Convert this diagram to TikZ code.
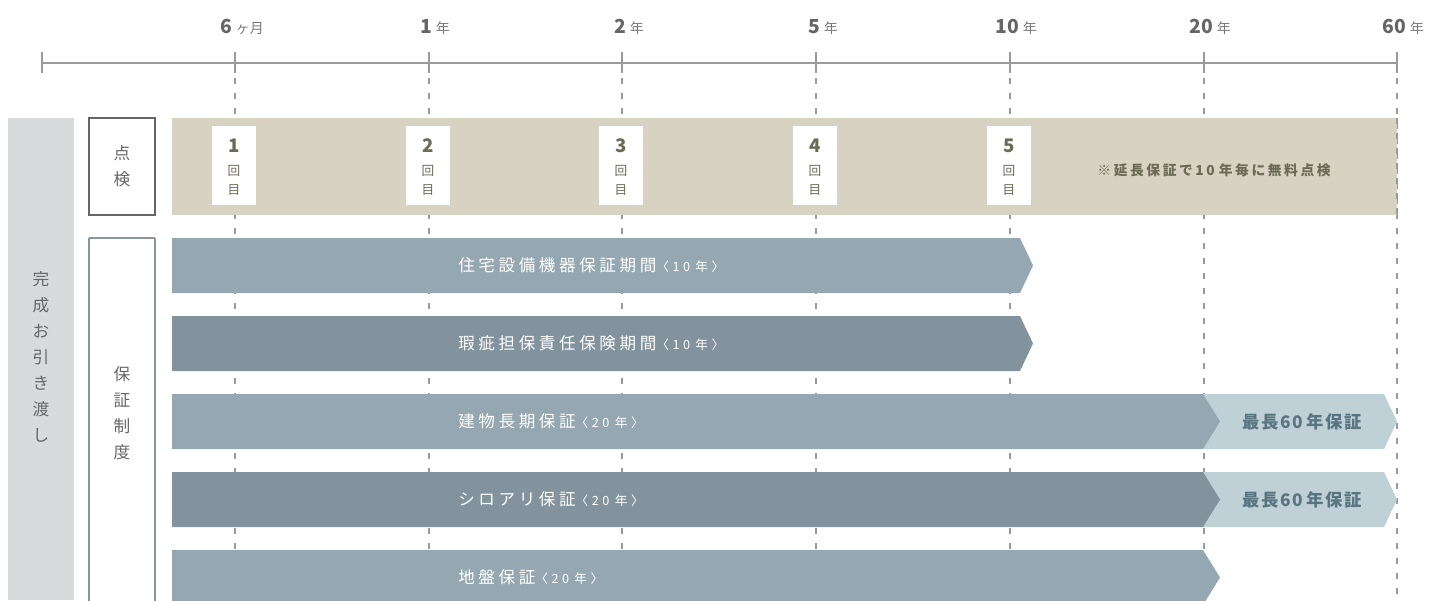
\documentclass[tikz,border=0pt]{standalone}
\usepackage{fontspec}
\setmainfont{Noto Sans CJK JP}
\definecolor{axisgray}{HTML}{9A9A9A}
\definecolor{numgray}{HTML}{666666}
\definecolor{unitgray}{HTML}{7A7A7A}
\definecolor{colgray}{HTML}{D9DADC}
\definecolor{beige}{HTML}{D8D2C2}
\definecolor{barlight}{HTML}{95A8B2}
\definecolor{bardark}{HTML}{82939E}
\definecolor{barext}{HTML}{C0D0D7}
\definecolor{exttext}{HTML}{5A7582}
\definecolor{insptext}{HTML}{6B6A55}
\definecolor{boxblue}{HTML}{8796A0}
\begin{document}
\begin{tikzpicture}[x=0.75pt,y=-0.75pt,
  axisline/.style={draw=axisgray,line width=1pt},
  dashline/.style={draw=axisgray,line width=0.8pt,dash pattern=on 4.5pt off 6.75pt},
  axlabel/.style={inner sep=0pt,anchor=base},
  sidetext/.style={inner sep=0pt,align=center,font=\fontsize{12.5}{19.5}\selectfont,text=numgray},
  inspbox/.style={fill=white,draw=none,minimum width=33pt,minimum height=59.25pt,inner sep=0pt},
  inspnum/.style={inner sep=0pt,text=insptext,font=\fontsize{14}{14}\selectfont\bfseries},
  inspkan/.style={inner sep=0pt,text=insptext,align=center,font=\fontsize{9.5}{14.25}\selectfont},
  bartext/.style={inner sep=0pt,anchor=west,text=white,font=\fontsize{12.4}{14}\selectfont\addfontfeature{LetterSpace=22}},
  exttextstyle/.style={inner sep=0pt,text=exttext,font=\fontsize{13}{14}\selectfont\bfseries\addfontfeature{LetterSpace=9}},
]
\useasboundingbox (0,0) rectangle (1430,600);

% dashed guide lines
\foreach \x in {235,429,622,816,1010,1204,1397}{
  \draw[dashline] (\x,78) -- (\x,600);
}

% axis
\draw[axisline] (42,63) -- (1397,63);
\foreach \x in {42,235,429,622,816,1010,1204,1397}{
  \draw[axisline] (\x,52) -- (\x,73);
}
\newcommand{\axn}[2]{{\color{numgray}\fontsize{14.5}{14}\selectfont\bfseries #1}\hspace{3pt}{\color{unitgray}\fontsize{10.5}{10}\selectfont #2}}
\newcommand{\yrs}[1]{{\fontsize{9.5}{10}\selectfont\addfontfeature{LetterSpace=28}〈#1\hspace{4pt}年〉}}
\node[axlabel] (l1) at (242,33) {\axn{6}{ヶ月}};
\node[axlabel] (l2) at (435,33) {\axn{1}{年}};
\node[axlabel] (l3) at (629,33) {\axn{2}{年}};
\node[axlabel] (l4) at (823,33) {\axn{5}{年}};
\node[axlabel] (l5) at (1016,33) {\axn{10}{年}};
\node[axlabel] (l6) at (1210,33) {\axn{20}{年}};
\node[axlabel] (l7) at (1403,33) {\axn{60}{年}};

% left column
\fill[colgray] (8,118) rectangle (74,600);
\node[sidetext] (kansei) at (41,357) {完\\成\\お\\引\\き\\渡\\し};

% 点検 box
\draw[draw=numgray,line width=0.9pt] (89,118) rectangle (155,215);
\node[sidetext] (tenken) at (122,166) {点\\検};

% 保証制度 box
\draw[draw=boxblue,line width=0.9pt] (89,238) -- (89,601) (155,238) -- (155,601) (89,238) -- (155,238);
\node[sidetext] (hosho) at (122,413) {保\\証\\制\\度};

% inspection band
\fill[beige] (172,118) rectangle (1397,215);
\draw[dashline] (1397,118) -- (1397,215);
\foreach \x/\n in {235/1,429/2,622/3,816/4,1010/5}{
  \node[inspbox] (ib\n) at (\x-1,165.5) {};
  \node[inspnum] (in\n) at (\x-1,146) {\n};
  \node[inspkan] (ik\n) at (\x-1,180) {回\\目};
}
\node[inspnum,font=\fontsize{10.3}{12}\selectfont\bfseries\addfontfeature{LetterSpace=19}] (note) at (1214,170) {※延長保証で10\hspace{3pt}年毎に無料点検};

% bars
\fill[barlight] (172,238) -- (1020,238) -- (1033,265.5) -- (1020,293) -- (172,293) -- cycle;
\node[bartext] (b1) at (458,265.5) {住宅設備機器保証期間\yrs{10}};

\fill[bardark] (172,316) -- (1020,316) -- (1033,343.5) -- (1020,371) -- (172,371) -- cycle;
\node[bartext] (b2) at (458,343.5) {瑕疵担保責任保険期間\yrs{10}};

\fill[barext] (1203,394) -- (1384,394) -- (1397,421.5) -- (1384,449) -- (1203,449) -- cycle;
\fill[barlight] (172,394) -- (1203,394) -- (1220,421.5) -- (1203,449) -- (172,449) -- cycle;
\node[bartext] (b3) at (458,421.5) {建物長期保証\yrs{20}};
\node[exttextstyle] (e3) at (1302,421.5) {最長60\hspace{2.5pt}年保証};

\fill[barext] (1203,472) -- (1384,472) -- (1397,499.5) -- (1384,527) -- (1203,527) -- cycle;
\fill[bardark] (172,472) -- (1203,472) -- (1220,499.5) -- (1203,527) -- (172,527) -- cycle;
\node[bartext] (b4) at (458,499.5) {シロアリ保証\yrs{20}};
\node[exttextstyle] (e4) at (1302,499.5) {最長60\hspace{2.5pt}年保証};

\fill[barlight] (172,550) -- (1203,550) -- (1220,577.5) -- (1203,605) -- (172,605) -- cycle;
\node[bartext] (b5) at (458,577.5) {地盤保証\yrs{20}};
\end{tikzpicture}
\end{document}
